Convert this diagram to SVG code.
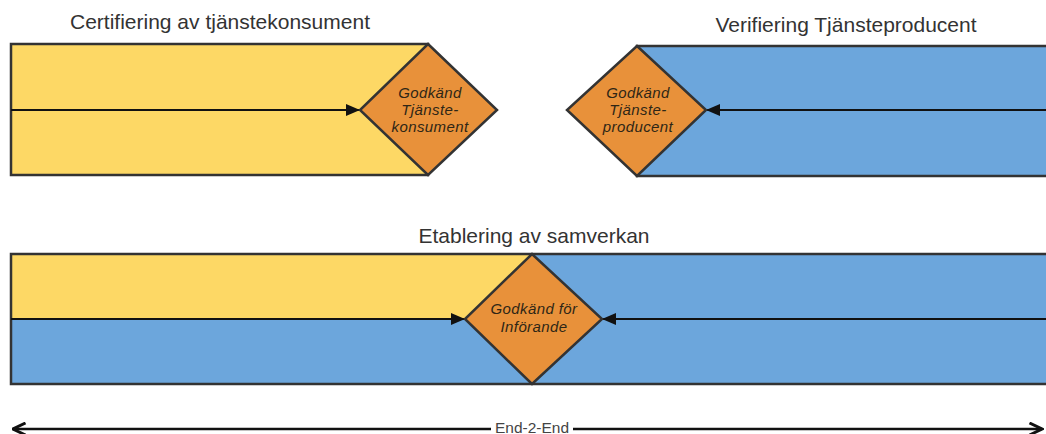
<svg xmlns="http://www.w3.org/2000/svg" width="1046" height="434" viewBox="0 0 1046 434">
<style>
.title{font-family:"Liberation Sans",Arial,sans-serif;font-size:21px;fill:#333;text-anchor:middle}
.dtext{font-family:"Liberation Sans",Arial,sans-serif;font-size:15px;font-style:italic;fill:#2e2616;text-anchor:middle;letter-spacing:0.4px}
.yel{fill:#FDD865}
.blu{fill:#6CA6DC}
.box{fill:none;stroke:#333;stroke-width:2.5}
.dia{fill:#E8913A;stroke:#333;stroke-width:2.5;stroke-linejoin:miter}
.arr{stroke:#111;stroke-width:2;fill:none}
.e2e{stroke:#111;stroke-width:2.5;fill:none}
</style>
<defs>
<marker id="tri" viewBox="0 0 14 12" refX="14" refY="6" markerWidth="14" markerHeight="12" markerUnits="userSpaceOnUse" orient="auto">
<path d="M0,0 L14,6 L0,12 Z" fill="#111"/>
</marker>
<marker id="chev" viewBox="0 0 16 14" refX="14.5" refY="7" markerWidth="16" markerHeight="14" markerUnits="userSpaceOnUse" orient="auto-start-reverse">
<path d="M2,1 L14.5,7 L2,13" fill="none" stroke="#111" stroke-width="3"/>
</marker>
</defs>
<rect width="1046" height="434" fill="#fff"/>

<g id="panel-consumer">
<rect class="yel" x="11" y="44" width="417" height="131"/>
<rect class="box" x="11" y="44" width="417" height="131"/>
<text class="title" x="220" y="29">Certifiering av tjänstekonsument</text>
</g>

<g id="panel-producer">
<rect class="blu" x="637" y="46" width="420" height="130"/>
<rect class="box" x="637" y="46" width="420" height="130"/>
<text class="title" x="846" y="32">Verifiering Tjänsteproducent</text>
</g>

<g id="panel-samverkan">
<rect class="blu" x="11" y="254" width="1045" height="130"/>
<polygon class="yel" points="11,254 532,254 465,319 11,319"/>
<rect class="box" x="11" y="254" width="1045" height="130"/>
<text class="title" x="534" y="243">Etablering av samverkan</text>
</g>

<g id="connectors">
<line class="arr" x1="11" y1="110" x2="360" y2="110" marker-end="url(#tri)"/>
<line class="arr" x1="1046" y1="110" x2="706" y2="110" marker-end="url(#tri)"/>
<line class="arr" x1="11" y1="319" x2="465" y2="319" marker-end="url(#tri)"/>
<line class="arr" x1="1046" y1="319" x2="602" y2="319" marker-end="url(#tri)"/>
<line class="e2e" x1="13" y1="429" x2="491" y2="429" marker-start="url(#chev)"/>
<line class="e2e" x1="573" y1="429" x2="1042" y2="429" marker-end="url(#chev)"/>
</g>

<g id="node-godkand-konsument">
<polygon class="dia" points="428,44 497,110 428,175 360,110"/>
<text class="dtext" x="430" y="98">Godkänd</text>
<text class="dtext" x="430" y="115">Tjänste-</text>
<text class="dtext" x="430" y="132">konsument</text>
</g>

<g id="node-godkand-producent">
<polygon class="dia" points="637,46 706,110 637,176 567,110"/>
<text class="dtext" x="638" y="98">Godkänd</text>
<text class="dtext" x="638" y="115">Tjänste-</text>
<text class="dtext" x="638" y="132">producent</text>
</g>

<g id="node-godkand-inforande">
<polygon class="dia" points="532,254 602,319 532,384 465,319"/>
<text class="dtext" x="534" y="314">Godkänd för</text>
<text class="dtext" x="534" y="332">Införande</text>
</g>

<g id="label-e2e">
<text x="532" y="433" font-family="'Liberation Sans',Arial,sans-serif" font-size="14" fill="#444" text-anchor="middle" textLength="74" lengthAdjust="spacingAndGlyphs">End-2-End</text>
</g>
</svg>
